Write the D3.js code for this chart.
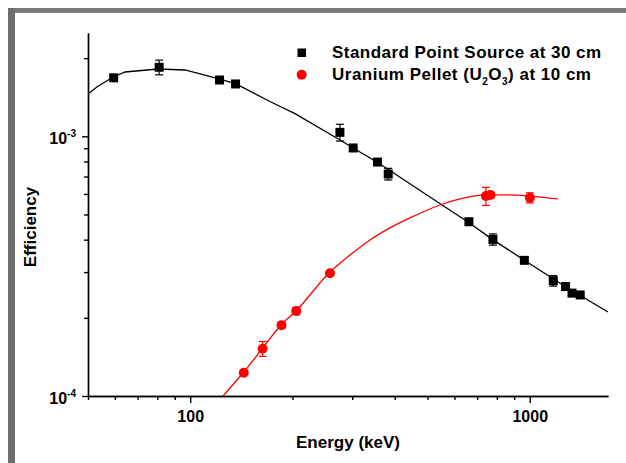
<!DOCTYPE html>
<html>
<head>
<meta charset="utf-8">
<script src="https://cdn.jsdelivr.net/npm/d3@7"></script>
<style>
  body { margin: 0; background: #fff; }
  svg { display: block; font-family: "Liberation Sans", Arial, sans-serif; font-weight: bold; }
</style>
</head>
<body>
<div id="chart"></div>
<script>
// Standard point source at 30 cm (keV, efficiency, error)
var stdEnergy = [59.5, 81, 122, 136, 276, 302, 356, 383, 662, 779, 964, 1173, 1275, 1332, 1408];
var stdEff = [1.68e-3, 1.845e-3, 1.648e-3, 1.591e-3, 1.036e-3, 9.02e-4, 7.96e-4, 7.16e-4, 4.69e-4, 4.01e-4, 3.33e-4, 2.78e-4, 2.64e-4, 2.49e-4, 2.45e-4];
var stdErr = [0, 1.2e-4, 0, 0, 7.7e-5, 0, 0, 3.7e-5, 0, 2.0e-5, 0, 1.3e-5, 0, 0, 0];

// Uranium pellet at 10 cm
var uEnergy = [143.8, 163.4, 185.7, 205.3, 258, 742.8, 766.4, 1001];
var uEff = [1.229e-4, 1.521e-4, 1.873e-4, 2.125e-4, 2.968e-4, 5.89e-4, 5.94e-4, 5.80e-4];
var uErr = [0, 1.0e-5, 5e-6, 7e-6, 0, 4.7e-5, 1.5e-5, 2.6e-5];

// fitted curves
var stdFitE = [50, 53.1, 59.3, 64.3, 80.4, 96.5, 121.6, 136.4, 172.9, 203.6, 276.2, 301.7, 354.9, 518.7, 657.8, 774.3, 961.6, 1278, 1700];
var stdFitEff = [1.455e-3, 1.549e-3, 1.692e-3, 1.769e-3, 1.817e-3, 1.801e-3, 1.663e-3, 1.591e-3, 1.356e-3, 1.223e-3, 9.68e-4, 9.02e-4, 7.96e-4, 5.74e-4, 4.68e-4, 4.02e-4, 3.34e-4, 2.63e-4, 2.106e-4];
var uFitE = [124.9, 143.0, 162.7, 185.1, 204.9, 256.3, 295.6, 338.5, 387.6, 443.8, 544.2, 623.1, 743.4, 874.8, 1001.6, 1211];
var uFitEff = [1.0e-4, 1.226e-4, 1.517e-4, 1.877e-4, 2.125e-4, 2.976e-4, 3.49e-4, 3.99e-4, 4.44e-4, 4.85e-4, 5.44e-4, 5.74e-4, 5.95e-4, 5.95e-4, 5.89e-4, 5.74e-4];

var xMajor = [100, 1000];
var xMinor = [50, 60, 70, 80, 90, 200, 300, 400, 500, 600, 700, 800, 900];
var yMajor = [1e-4, 1e-3];
var yMinor = [2e-4, 3e-4, 4e-4, 5e-4, 6e-4, 7e-4, 8e-4, 9e-4, 2e-3];

var width = 626, height = 463;
var plotLeft = 88, plotRight = 608, plotTop = 33, plotBottom = 396;

var svg = d3.select("#chart").append("svg")
    .attr("width", width)
    .attr("height", height)

// grey frame
svg.append("rect").attr("x", 8).attr("y", 8).attr("width", width - 8).attr("height", 5).attr("fill", "#7a7a7a")
svg.append("rect").attr("x", 8).attr("y", 8).attr("width", 7).attr("height", height - 8).attr("fill", "#6e6e6e")

var x = d3.scaleLog().domain([50, 1700]).range([plotLeft, plotRight])
var y = d3.scaleLog().domain([1e-4, 2.5e-3]).range([plotBottom, plotTop])

svg.append("clipPath").attr("id", "plot")
    .append("rect").attr("x", plotLeft).attr("y", plotTop).attr("width", plotRight - plotLeft).attr("height", plotBottom - plotTop)

// axes
var xAxisMinor = d3.axisBottom(x).tickValues(xMinor).tickSize(4).tickSizeOuter(0).tickFormat("")
var xAxisMajor = d3.axisBottom(x).tickValues(xMajor).tickSize(7).tickSizeOuter(0).tickPadding(8).tickFormat(d3.format("d"))
var yAxisMinor = d3.axisLeft(y).tickValues(yMinor).tickSize(4).tickSizeOuter(0).tickFormat("")
var yAxisMajor = d3.axisLeft(y).tickValues(yMajor).tickSize(6).tickSizeOuter(0).tickFormat("")

svg.append("g").attr("transform", "translate(0," + plotBottom + ")").call(xAxisMinor)
var gx = svg.append("g").attr("transform", "translate(0," + plotBottom + ")").call(xAxisMajor)
svg.append("g").attr("transform", "translate(" + plotLeft + ",0)").call(yAxisMinor)
var gy = svg.append("g").attr("transform", "translate(" + plotLeft + ",0)").call(yAxisMajor)

svg.selectAll(".domain, .tick line").attr("stroke", "#000").attr("stroke-width", 1.4)
gx.selectAll("text").attr("font-size", 16).attr("font-family", null).attr("fill", "#000")

// y tick labels as 10 with superscript exponent
gy.selectAll(".tick").each(function (d) {
    var t = d3.select(this).append("text")
        .attr("x", -12).attr("y", 7)
        .attr("text-anchor", "end")
        .attr("fill", "#000")
        .attr("font-size", 16)
    t.append("tspan").text("10")
    t.append("tspan").attr("dy", -7).attr("font-size", 10).text("-" + Math.round(-Math.log10(d)))
})

// fit lines
var line = d3.line()
    .x(function (d) { return x(d[0]) })
    .y(function (d) { return y(d[1]) })

svg.append("path")
    .datum(stdFitE.map(function (e, i) { return [e, stdFitEff[i]] }))
    .attr("clip-path", "url(#plot)")
    .attr("d", line)
    .attr("fill", "none").attr("stroke", "#000").attr("stroke-width", 1.3)

svg.append("path")
    .datum(uFitE.map(function (e, i) { return [e, uFitEff[i]] }))
    .attr("clip-path", "url(#plot)")
    .attr("d", line.curve(d3.curveMonotoneX))
    .attr("fill", "none").attr("stroke", "#ff0000").attr("stroke-width", 1.3)

// error bars
function errorBars(energy, eff, err, color) {
    var data = energy.map(function (e, i) { return { e: e, v: eff[i], s: err[i] } }).filter(function (d) { return d.s > 0 })
    var g = svg.append("g").attr("stroke", color).attr("stroke-width", 1.2)
    g.selectAll(".bar").data(data).enter().append("line")
        .attr("x1", function (d) { return x(d.e) }).attr("x2", function (d) { return x(d.e) })
        .attr("y1", function (d) { return y(d.v + d.s) }).attr("y2", function (d) { return y(d.v - d.s) })
    g.selectAll(".capt").data(data).enter().append("line")
        .attr("x1", function (d) { return x(d.e) - 4 }).attr("x2", function (d) { return x(d.e) + 4 })
        .attr("y1", function (d) { return y(d.v + d.s) }).attr("y2", function (d) { return y(d.v + d.s) })
    g.selectAll(".capb").data(data).enter().append("line")
        .attr("x1", function (d) { return x(d.e) - 4 }).attr("x2", function (d) { return x(d.e) + 4 })
        .attr("y1", function (d) { return y(d.v - d.s) }).attr("y2", function (d) { return y(d.v - d.s) })
}
errorBars(stdEnergy, stdEff, stdErr, "#000")
errorBars(uEnergy, uEff, uErr, "#ff0000")

// markers
svg.selectAll(".std").data(stdEnergy).enter().append("rect")
    .attr("x", function (d) { return x(d) - 4.5 })
    .attr("y", function (d, i) { return y(stdEff[i]) - 4.5 })
    .attr("width", 9).attr("height", 9)
    .attr("fill", "#000")

svg.selectAll(".uran").data(uEnergy).enter().append("circle")
    .attr("cx", function (d) { return x(d) })
    .attr("cy", function (d, i) { return y(uEff[i]) })
    .attr("r", 5)
    .attr("fill", "#ff0000")

// legend
svg.append("rect").attr("x", 297.5).attr("y", 48.5).attr("width", 8.5).attr("height", 8.5).attr("fill", "#000")
svg.append("circle").attr("cx", 301.7).attr("cy", 74.7).attr("r", 5).attr("fill", "#ff0000")

svg.append("text").attr("x", 332).attr("y", 58).attr("font-size", 17)
    .attr("letter-spacing", 0.45)
    .text("Standard Point Source at 30 cm")

var leg2 = svg.append("text").attr("x", 332).attr("y", 80).attr("font-size", 17)
    .attr("letter-spacing", 0.5)
leg2.append("tspan").text("Uranium Pellet (U")
leg2.append("tspan").attr("dy", 5).attr("font-size", 10).text("2")
leg2.append("tspan").attr("dy", -5).text("O")
leg2.append("tspan").attr("dy", 5).attr("font-size", 10).text("3")
leg2.append("tspan").attr("dy", -5).text(") at 10 cm")

// axis titles
svg.append("text").attr("x", 348).attr("y", 448)
    .attr("text-anchor", "middle").attr("font-size", 17)
    .text("Energy (keV)")

svg.append("text").attr("transform", "translate(36,227) rotate(-90)")
    .attr("text-anchor", "middle").attr("font-size", 17)
    .text("Efficiency")
</script>
</body>
</html>
